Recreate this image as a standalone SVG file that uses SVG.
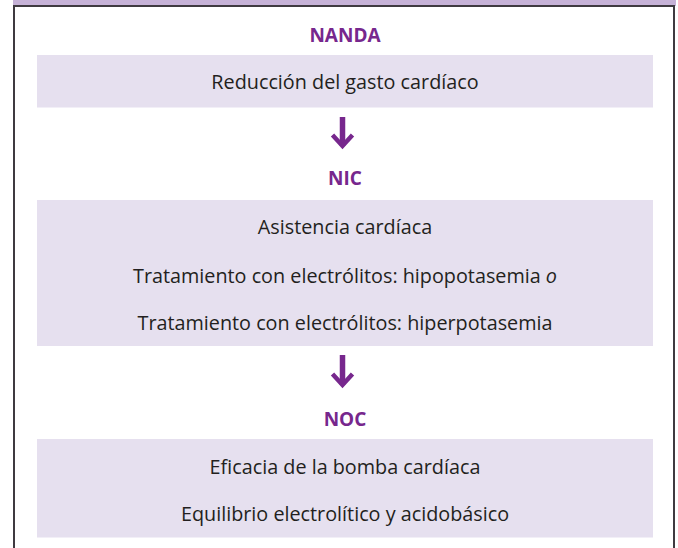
<svg xmlns="http://www.w3.org/2000/svg" width="678" height="548" viewBox="0 0 678 548">
<style>
.band{fill:#c6b2d7}
.frame{fill:#ffffff;stroke:#3f3a40;stroke-width:2}
.box{fill:#e6e0ef}
.head{font-family:"Open Sans","Noto Sans",sans-serif;font-weight:bold;font-size:19px;fill:#77278d;text-anchor:middle}
.txt{font-family:"Open Sans","Noto Sans",sans-serif;font-size:19.8px;fill:#231f20;text-anchor:middle}
.shaft{fill:none;stroke:#77278d;stroke-width:5.5}
.tip{fill:none;stroke:#77278d;stroke-width:4.5;stroke-linejoin:miter;stroke-miterlimit:10}
</style>
<rect class="band" x="13" y="0" width="663" height="6"/>
<rect class="frame" x="14" y="6" width="660" height="560"/>
<g id="nanda">
<text class="head" x="345" y="42">NANDA</text>
<rect class="box" x="37" y="55" width="616" height="52.5"/>
<text class="txt" x="345" y="89">Reducción del gasto cardíaco</text>
</g>
<g id="connectors">
<path class="shaft" d="M342.5,117 V146"/>
<path class="tip" d="M332.5,135 L342.5,146 L352.5,135"/>
<path class="shaft" d="M342.5,355 V385"/>
<path class="tip" d="M332.5,374 L342.5,385 L352.5,374"/>
</g>
<g id="nic">
<text class="head" x="345" y="185">NIC</text>
<rect class="box" x="37" y="200" width="616" height="146"/>
<text class="txt" x="345" y="234">Asistencia cardíaca</text>
<text class="txt" x="345" y="283">Tratamiento con electrólitos: hipopotasemia <tspan font-style="italic">o</tspan></text>
<text class="txt" x="345" y="330">Tratamiento con electrólitos: hiperpotasemia</text>
</g>
<g id="noc">
<text class="head" x="345" y="426">NOC</text>
<rect class="box" x="37" y="439" width="616" height="98.5"/>
<text class="txt" x="345" y="474">Eficacia de la bomba cardíaca</text>
<text class="txt" x="345" y="521">Equilibrio electrolítico y acidobásico</text>
</g>
</svg>
